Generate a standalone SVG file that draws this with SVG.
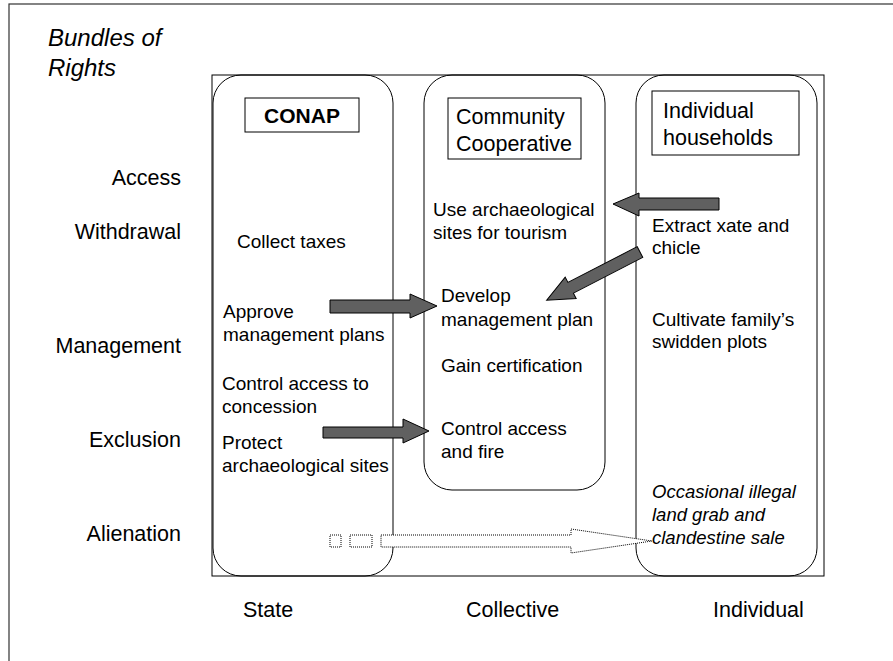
<svg xmlns="http://www.w3.org/2000/svg" width="893" height="661" viewBox="0 0 893 661">
<style>
text{font-family:"Liberation Sans",Arial,sans-serif;fill:#000}
.lbl{font-size:21.5px}
.row{font-size:21.5px;text-anchor:end}
.in{font-size:19px}
.it{font-style:italic}
.col{fill:none;stroke:#000;stroke-width:1}
.hdr{fill:#fff;stroke:#000;stroke-width:1}
.arr{fill:#606060;stroke:#000;stroke-width:1;stroke-linejoin:miter}
.dot{fill:#fff;stroke:#000;stroke-width:1;stroke-dasharray:1 1}
</style>
<rect x="0" y="0" width="893" height="661" fill="#fff"/>
<rect x="9" y="4" width="900" height="700" fill="none" stroke="#333" stroke-width="1.2"/>
<text x="48" y="46" font-size="24" class="it" style="font-size:24px">Bundles of</text>
<text x="48" y="76" class="it" style="font-size:24px">Rights</text>
<rect x="212" y="75" width="612" height="501" fill="none" stroke="#000" stroke-width="1"/>
<g id="rows">
<text class="row" x="181" y="185">Access</text>
<text class="row" x="181" y="239">Withdrawal</text>
<text class="row" x="181" y="353">Management</text>
<text class="row" x="181" y="447">Exclusion</text>
<text class="row" x="181" y="541">Alienation</text>
</g>
<g id="state">
<rect class="col" x="213" y="75" width="180" height="501" rx="28" ry="28"/>
<rect class="hdr" x="245" y="98" width="114" height="34"/>
<text x="302" y="123" text-anchor="middle" style="font-size:21px;font-weight:bold">CONAP</text>
<text class="in" x="237" y="248">Collect taxes</text>
<text class="in" x="223" y="318">Approve</text>
<text class="in" x="223" y="341">management plans</text>
<text class="in" x="222" y="390">Control access to</text>
<text class="in" x="222" y="413">concession</text>
<text class="in" x="222" y="449">Protect</text>
<text class="in" x="222" y="472">archaeological sites</text>
<text class="lbl" x="243" y="617">State</text>
</g>
<g id="collective">
<rect class="col" x="424" y="75" width="181" height="415" rx="28" ry="28"/>
<rect class="hdr" x="448" y="98" width="133" height="61"/>
<text class="lbl" x="456" y="124">Community</text>
<text class="lbl" x="456" y="151">Cooperative</text>
<text class="in" x="433" y="216">Use archaeological</text>
<text class="in" x="433" y="239">sites for tourism</text>
<text class="in" x="441" y="302">Develop</text>
<text class="in" x="441" y="326">management plan</text>
<text class="in" x="441" y="372">Gain certification</text>
<text class="in" x="441" y="435">Control access</text>
<text class="in" x="441" y="458">and fire</text>
<text class="lbl" x="466" y="617">Collective</text>
</g>
<g id="individual">
<rect class="col" x="636" y="75" width="181" height="501" rx="28" ry="28"/>
<rect class="hdr" x="652" y="91" width="147" height="64"/>
<text class="lbl" x="663" y="118">Individual</text>
<text class="lbl" x="663" y="145">households</text>
<text class="in" x="652" y="232">Extract xate and</text>
<text class="in" x="652" y="254">chicle</text>
<text class="in" x="652" y="326">Cultivate family’s</text>
<text class="in" x="652" y="348">swidden plots</text>
<text class="in it" x="652" y="498" style="font-size:18.5px">Occasional illegal</text>
<text class="in it" x="652" y="521" style="font-size:18.5px">land grab and</text>
<text class="in it" x="652" y="544" style="font-size:18.5px">clandestine sale</text>
<text class="lbl" x="713" y="617">Individual</text>
</g>
<g id="connectors">
<polygon class="arr" points="719,198 639,198 639,193 613,204 639,216 639,210 719,210"/>
<polygon class="arr" transform="translate(640,252) rotate(152.7)" points="0,-6 78,-6 78,-12 105,0 78,12 78,6 0,6"/>
<polygon class="arr" points="330,300 410,300 410,294 437,306 410,318 410,313 330,313"/>
<polygon class="arr" points="323,427 403,427 403,419 429,431 403,443 403,438 323,438"/>
<rect class="dot" x="330" y="535" width="11" height="12"/>
<rect class="dot" x="350" y="535" width="22" height="12"/>
<polygon class="dot" points="381,535 571,535 571,529 652,541 571,553 571,547 381,547"/>
</g>
</svg>
